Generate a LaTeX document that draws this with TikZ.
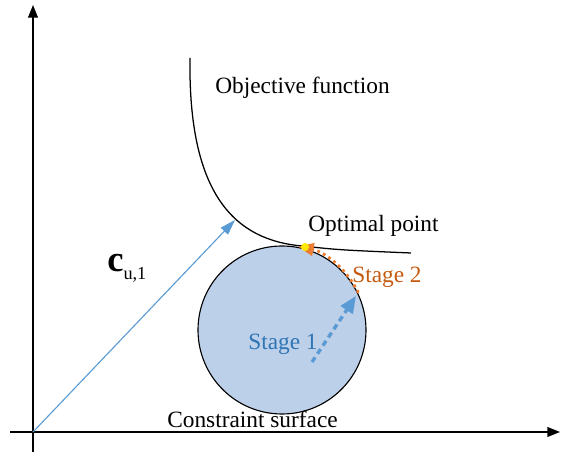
\documentclass[tikz,border=0pt]{standalone}
\usepackage{fontspec}
\setmainfont{Liberation Serif}
\usetikzlibrary{arrows.meta}
\definecolor{discfill}{RGB}{189,208,233}
\definecolor{vecblue}{RGB}{91,155,213}
\definecolor{stageblue}{RGB}{46,117,182}
\definecolor{stageorange}{RGB}{197,90,17}
\definecolor{arrorange}{RGB}{237,125,49}
\tikzstyle{axis}=[line width=1pt, -{Triangle[length=9pt,width=7pt]}]
\tikzstyle{txtlbl}=[inner sep=0pt, anchor=base west, font=\fontsize{16.6}{20}\selectfont]
\tikzstyle{stageone}=[line width=2.4pt, dash pattern=on 4pt off 3pt, vecblue, -{Triangle[length=12pt,width=10pt]}]
\tikzstyle{stagetwo}=[line width=2pt, dash pattern=on 2pt off 2.5pt, arrorange, -{Triangle[length=11pt,width=9pt]}]

\begin{document}
\begin{tikzpicture}[x=0.025cm, y=0.025cm]
				\useasboundingbox (0,0) rectangle (566,453);
				\coordinate (o) at (33,21);
				\coordinate (ytop) at (33,448);
				\coordinate (ybot) at (33,1);
				\coordinate (xleft) at (10,21);
				\coordinate (xright) at (560,21);
				\coordinate (ctr) at (282,123);
				\coordinate (tip) at (235,233);
				\coordinate (opt) at (305,206);

				\fill[discfill, draw=black, line width=0.8pt] (ctr) circle [radius=84];

				\draw[axis] (ybot) -- (ytop);
				\draw[axis] (xleft) -- (xright);

				\draw[line width=0.9pt] (190,395) .. controls (188,258) and (235,213) .. (302,207)
					.. controls (340,203) .. (411,200);

				\draw[vecblue, line width=0.8pt, -{Triangle[length=11pt,width=7pt]}] (o) -- (tip);

				\coordinate (s1a) at (312,91);
				\coordinate (s1b) at (356,157);
				\draw[stageone] (s1a) -- (s1b);
				\draw[stagetwo] ([shift={(26:85)}]ctr) arc [start angle=26, end angle=79, radius=85];

				\fill[yellow!90!orange] (opt) circle [radius=4];

				\node[txtlbl] (objlbl) at (215,359) {Objective function};
				\node[txtlbl] (optlbl) at (308,221) {Optimal point};
				\node[txtlbl, text=stageorange] (s2lbl) at (352,170) {Stage 2};
				\node[txtlbl, text=stageblue] (s1lbl) at (248,103) {Stage 1};
				\node[txtlbl] (conlbl) at (167,25) {Constraint surface};
				\node[inner sep=0pt, anchor=base west] (clbl) at (107,181)
					{\fontsize{26}{26}\selectfont\bfseries c\raisebox{-5pt}{\fontsize{13}{13}\selectfont\mdseries u,1}};
			\end{tikzpicture}
\end{document}
